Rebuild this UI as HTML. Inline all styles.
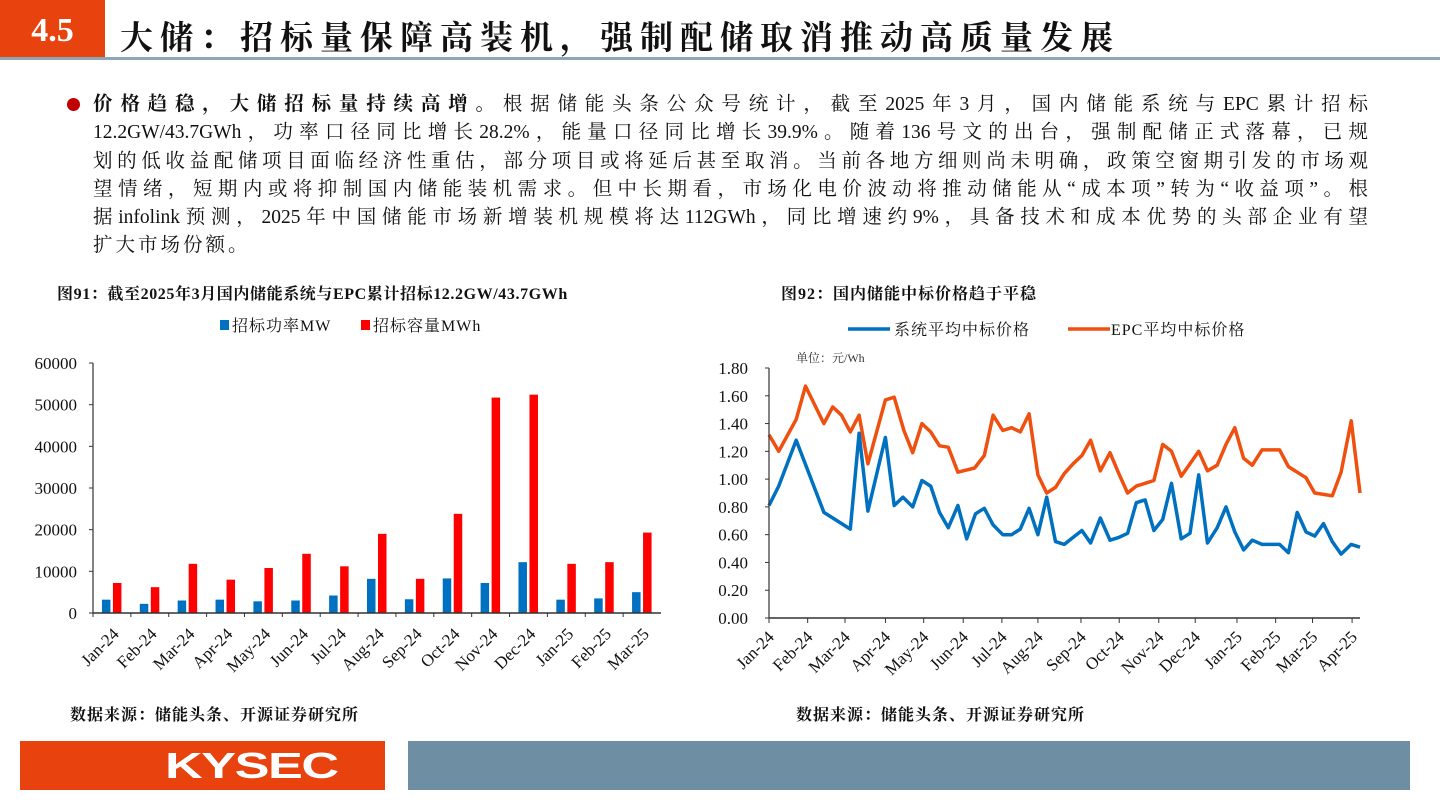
<!DOCTYPE html>
<html><head><meta charset="utf-8">
<style>
body{margin:0;width:1440px;height:810px;background:#fff;position:relative;overflow:hidden;font-family:"Liberation Serif","Noto Serif CJK SC",serif;}
.abs{position:absolute;}
#body-text{left:93px;top:91px;width:1275px;font-size:19.5px;line-height:28.3px;color:#111;}
#body-text div{text-align:justify;text-align-last:justify;white-space:nowrap;}
#body-text div.last{text-align-last:left;letter-spacing:3px;}
#body-text b{font-weight:bold;}
.cap{font-weight:bold;font-size:16px;color:#111;}
</style></head><body>
<div class="abs" style="left:0;top:0;width:105px;height:57px;background:#E8420F;color:#fff;font-weight:bold;font-size:34px;line-height:62px;text-align:center;">4.5</div>
<div class="abs" style="left:120px;top:12px;font-size:33px;font-weight:bold;color:#111;font-family:'Liberation Serif','Noto Serif CJK SC',serif;letter-spacing:7px;white-space:nowrap;">大储：招标量保障高装机，强制配储取消推动高质量发展</div>
<div class="abs" style="left:0;top:57px;width:1440px;height:3px;background:#8FA6B6;"></div>
<div class="abs" style="left:67px;top:98px;width:13px;height:13px;border-radius:50%;background:#C00000;"></div>
<div class="abs" id="body-text">
<div><b>价格趋稳，大储招标量持续高增。</b>根据储能头条公众号统计，截至2025年3月，国内储能系统与EPC累计招标</div>
<div>12.2GW/43.7GWh，功率口径同比增长28.2%，能量口径同比增长39.9%。随着136号文的出台，强制配储正式落幕，已规</div>
<div>划的低收益配储项目面临经济性重估，部分项目或将延后甚至取消。当前各地方细则尚未明确，政策空窗期引发的市场观</div>
<div>望情绪，短期内或将抑制国内储能装机需求。但中长期看，市场化电价波动将推动储能从“成本项”转为“收益项”。根</div>
<div>据infolink预测，2025年中国储能市场新增装机规模将达112GWh，同比增速约9%，具备技术和成本优势的头部企业有望</div>
<div class="last">扩大市场份额。</div>
</div>

<div class="abs cap" style="left:57px;top:281px;letter-spacing:0.6px;">图91：截至2025年3月国内储能系统与EPC累计招标12.2GW/43.7GWh</div>
<div class="abs cap" style="left:781px;top:281px;letter-spacing:1px;">图92：国内储能中标价格趋于平稳</div>
<div class="abs cap" style="left:70px;top:702px;letter-spacing:1px;">数据来源：储能头条、开源证券研究所</div>
<div class="abs cap" style="left:796px;top:702px;letter-spacing:1px;">数据来源：储能头条、开源证券研究所</div>

<svg class="abs" style="left:0;top:0" width="1440" height="810">
<g id="bar-chart"></g>
<g id="line-chart"></g>
</svg>

<div class="abs" style="left:20px;top:741px;width:365px;height:49px;background:#E8420F;"></div>
<div class="abs" style="left:165px;top:745px;color:#fff;font-family:'Liberation Sans',sans-serif;font-weight:bold;font-size:36px;letter-spacing:-1px;transform:scaleX(1.45);transform-origin:left;">KYSEC</div>
<div class="abs" style="left:408px;top:741px;width:1002px;height:49px;background:#6E8FA3;"></div>

<script>
const NS='http://www.w3.org/2000/svg';
function mk(tag,attrs,parent,text){const e=document.createElementNS(NS,tag);for(const k in attrs)e.setAttribute(k,attrs[k]);if(text!==undefined)e.textContent=text;parent.appendChild(e);return e;}

// ---- Bar chart data ----
const barCats=['Jan-24','Feb-24','Mar-24','Apr-24','May-24','Jun-24','Jul-24','Aug-24','Sep-24','Oct-24','Nov-24','Dec-24','Jan-25','Feb-25','Mar-25'];
const powerMW=[3200,2200,3000,3200,2800,3000,4200,8200,3300,8300,7200,12200,3200,3500,5000];
const capMWh=[7200,6200,11800,8000,10800,14200,11200,19000,8200,23800,51700,52400,11800,12200,19300];
const barTicks=[0,10000,20000,30000,40000,50000,60000];

(function(){
const g=document.getElementById('bar-chart');
const x0=93,x1=661,y0=613,y1=363,ymax=60000;
const cw=(x1-x0)/barCats.length;
const ys=v=>y0-(v/ymax)*(y0-y1);
barTicks.forEach(t=>{
  const l=mk('text',{x:x0-16,y:ys(t)+6,'text-anchor':'end','font-size':'17','font-family':'Liberation Serif, serif',fill:'#111'},g,String(t));
  
  
  mk('line',{x1:x0-4,x2:x0,y1:ys(t),y2:ys(t),stroke:'#333','stroke-width':1},g);
});
barCats.forEach((c,i)=>{
  const cx=x0+cw*(i+0.5);
  const b1=mk('rect',{x:cx-10,y:ys(powerMW[i]),width:8.5,height:y0-ys(powerMW[i]),fill:'#0070C0'},g);
  
  
  const b2=mk('rect',{x:cx+1,y:ys(capMWh[i]),width:8.5,height:y0-ys(capMWh[i]),fill:'#FF0000'},g);
  
  
  mk('line',{x1:x0+cw*i,x2:x0+cw*i,y1:y0,y2:y0+4,stroke:'#333'},g);
  const t=mk('text',{x:cx+8,y:y0+22,'text-anchor':'end','font-size':'17','font-family':'Liberation Serif, serif',fill:'#111',transform:`rotate(-45 ${cx+8} ${y0+22})`},g,c);
  
  
});
mk('line',{x1:x0,x2:x0,y1:y1,y2:y0,stroke:'#333','stroke-width':1.2},g);
mk('line',{x1:x0,x2:x1,y1:y0,y2:y0,stroke:'#333','stroke-width':1.5},g);
const lg=mk('g',{},g);


mk('rect',{x:220,y:320,width:9,height:10,fill:'#0070C0'},lg);
mk('text',{x:232,y:331,'font-size':'16','font-family':'Liberation Serif, Noto Serif CJK SC, serif',fill:'#111','letter-spacing':'1'},lg,'招标功率MW');
mk('rect',{x:361,y:320,width:9,height:10,fill:'#FF0000'},lg);
mk('text',{x:373,y:331,'font-size':'16','font-family':'Liberation Serif, Noto Serif CJK SC, serif',fill:'#111','letter-spacing':'1'},lg,'招标容量MWh');
})();

// ---- Line chart data (x in weeks from Jan-24 start) ----
const monthLabels=['Jan-24','Feb-24','Mar-24','Apr-24','May-24','Jun-24','Jul-24','Aug-24','Sep-24','Oct-24','Nov-24','Dec-24','Jan-25','Feb-25','Mar-25','Apr-25'];
const monthWeeks=[0,4.4,8.65,13.25,17.6,22.1,26.5,30.6,35.5,39.85,44.35,48.5,53.25,57.65,61.85,66.35];
const epcWeeks=[0,1.1,3.1,4.15,6.25,7.25,8.25,9.25,10.25,11.25,13.25,14.25,15.35,16.35,17.4,18.4,19.4,20.4,21.5,23.4,24.5,25.5,26.6,27.6,28.6,29.6,30.6,31.6,32.6,33.6,34.6,35.6,36.6,37.7,38.8,39.8,40.8,41.8,42.8,43.8,44.8,45.8,46.9,47.9,48.9,49.9,51,52,53,54,55,56.1,57.1,58.1,59.1,60.1,61.1,62.1,63.1,64.1,65.1,66.25,67.25];
const epcPrice=[1.32,1.20,1.43,1.67,1.40,1.52,1.46,1.34,1.46,1.11,1.57,1.59,1.35,1.19,1.40,1.34,1.24,1.23,1.05,1.08,1.17,1.46,1.35,1.37,1.34,1.47,1.03,0.90,0.94,1.04,1.11,1.17,1.28,1.06,1.19,1.04,0.90,0.95,0.97,0.99,1.25,1.20,1.02,1.11,1.20,1.06,1.10,1.25,1.37,1.15,1.10,1.21,1.21,1.21,1.09,1.05,1.01,0.90,0.89,0.88,1.05,1.42,0.90];
const sysWeeks=[0,1.1,3.1,6.25,9.25,10.25,11.25,13.25,14.25,15.25,16.35,17.4,18.4,19.4,20.4,21.5,22.5,23.5,24.5,25.5,26.6,27.6,28.6,29.6,30.6,31.6,32.6,33.6,34.6,35.6,36.6,37.7,38.8,39.8,40.8,41.8,42.8,43.8,44.8,45.8,46.9,47.9,48.9,49.9,51,52,53,54,55,56.1,57.1,58.1,59.1,60.1,61.1,62.1,63.1,64.1,65.1,66.25,67.25];
const sysPrice=[0.81,0.95,1.28,0.76,0.64,1.33,0.77,1.30,0.81,0.87,0.80,0.99,0.95,0.76,0.65,0.81,0.57,0.75,0.79,0.67,0.60,0.60,0.64,0.79,0.60,0.87,0.55,0.53,0.58,0.63,0.54,0.72,0.56,0.58,0.61,0.83,0.85,0.63,0.71,0.97,0.57,0.61,1.03,0.54,0.65,0.80,0.62,0.49,0.56,0.53,0.53,0.53,0.47,0.76,0.62,0.59,0.68,0.55,0.46,0.53,0.51];
const lineTicks=[0,0.2,0.4,0.6,0.8,1.0,1.2,1.4,1.6,1.8];

(function(){
const g=document.getElementById('line-chart');
const x0=769,x1=1360,y0=618,y1=368,wmax=67.25,ymax=1.8;
const xs=w=>x0+(w/wmax)*(x1-x0);
const ys=v=>y0-(v/ymax)*(y0-y1);
lineTicks.forEach(t=>{
  const l=mk('text',{x:x0-21,y:ys(t)+6,'text-anchor':'end','font-size':'17','font-family':'Liberation Serif, serif',fill:'#111'},g,t.toFixed(2));
  
  
  mk('line',{x1:x0-4,x2:x0,y1:ys(t),y2:ys(t),stroke:'#333'},g);
});
monthLabels.forEach((m,i)=>{
  const x=xs(monthWeeks[i]);
  mk('line',{x1:x,x2:x,y1:y0,y2:y0+5,stroke:'#333'},g);
  const t=mk('text',{x:x+6,y:y0+20,'text-anchor':'end','font-size':'17','font-family':'Liberation Serif, serif',fill:'#111',transform:`rotate(-45 ${x+6} ${y0+20})`},g,m);
  
  
});
const pathOf=(ws,vs)=>ws.map((w,i)=>(i?'L':'M')+xs(w).toFixed(1)+','+ys(vs[i]).toFixed(1)).join('');
const p1=mk('path',{d:pathOf(epcWeeks,epcPrice),fill:'none',stroke:'#F0500F','stroke-width':3.5,'stroke-linejoin':'round'},g);


const p2=mk('path',{d:pathOf(sysWeeks,sysPrice),fill:'none',stroke:'#0070C0','stroke-width':3.5,'stroke-linejoin':'round'},g);


mk('line',{x1:x0,x2:x0,y1:y1,y2:y0,stroke:'#333','stroke-width':1.2},g);
mk('line',{x1:x0,x2:x1,y1:y0,y2:y0,stroke:'#333','stroke-width':1.5},g);
const u=mk('text',{x:796,y:362,'font-size':'12','font-family':'Liberation Serif, Noto Serif CJK SC, serif',fill:'#333'},g,'单位：元/Wh');


const lg=mk('g',{},g);


mk('line',{x1:848,x2:890,y1:329,y2:329,stroke:'#0070C0','stroke-width':3.5},lg);
mk('text',{x:894,y:335,'font-size':'16','font-family':'Liberation Serif, Noto Serif CJK SC, serif',fill:'#111','letter-spacing':'1'},lg,'系统平均中标价格');
mk('line',{x1:1068,x2:1110,y1:329,y2:329,stroke:'#F0500F','stroke-width':3.5},lg);
mk('text',{x:1111,y:335,'font-size':'16','font-family':'Liberation Serif, Noto Serif CJK SC, serif',fill:'#111','letter-spacing':'1'},lg,'EPC平均中标价格');
})();
</script>
</body></html>
